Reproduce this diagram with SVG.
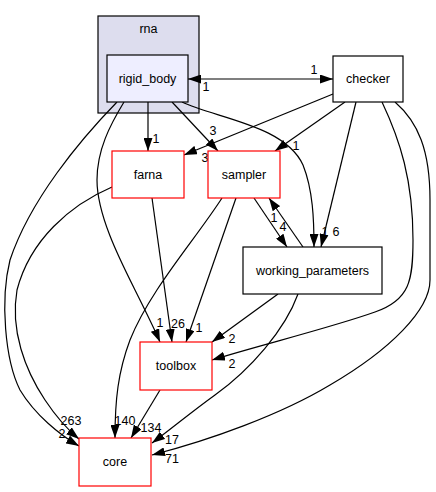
<svg xmlns="http://www.w3.org/2000/svg" width="436" height="492" viewBox="0 0 436 492">
<style>
text{font-family:"Liberation Sans",Arial,sans-serif;font-size:12.5px;fill:#000}
.n{text-anchor:middle}
.box{fill:#fff;stroke:#000;stroke-width:1.2}
.red{fill:#fff;stroke:#ff0000;stroke-width:1.2}
.e{fill:none;stroke:#000;stroke-width:1.2;marker-end:url(#ah)}
.l{text-anchor:middle}
</style>
<defs>
<marker id="ah" viewBox="0 0 13 9" refX="13" refY="4.5" markerWidth="13" markerHeight="9" markerUnits="userSpaceOnUse" orient="auto"><path d="M0,0 L13,4.5 L0,9 z" fill="#000"/></marker>
<marker id="ahs" viewBox="0 0 13 9" refX="13" refY="4.5" markerWidth="13" markerHeight="9" markerUnits="userSpaceOnUse" orient="auto-start-reverse"><path d="M0,0 L13,4.5 L0,9 z" fill="#000"/></marker>
</defs>
<rect width="436" height="492" fill="#fff"/>
<g id="cluster_rna">
<rect x="98" y="16" width="101" height="97" fill="#ddddee" stroke="#000" stroke-width="1.2"/>
<text class="n" x="148.5" y="33">rna</text>
</g>
<g id="connectors">
<path class="e" d="M188,79 L333,79" style="marker-start:url(#ahs)"/>
<text class="l" x="314" y="74">1</text>
<text class="l" x="206" y="91">1</text>
<path class="e" d="M148,102 L148,151"/>
<text class="l" x="156" y="143">1</text>
<path class="e" d="M172,102 L218,151"/>
<text class="l" x="213" y="135">3</text>
<path class="e" d="M333,94 L184,155"/>
<text class="l" x="205" y="162">3</text>
<path class="e" d="M345,102 L275,151"/>
<text class="l" x="296" y="150">1</text>
<path class="e" d="M182,102 C215,118 285,125 303,165 C313,190 314,220 314,247"/>
<path class="e" d="M356,102 L321,247"/>
<text class="l" x="325" y="236">1</text>
<text class="l" x="336" y="236">6</text>
<path class="e" d="M254,198 L287,247"/>
<text class="l" x="283" y="231">4</text>
<path class="e" d="M303,247 L269,198"/>
<text class="l" x="274" y="222">1</text>
<path class="e" d="M382,102 C400,140 413,180 413,240 C413,280 410,300 375,312 C330,328 260,345 212,360"/>
<text class="l" x="232" y="368">2</text>
<path class="e" d="M395,102 C418,122 430,150 430,200 L430,280 C430,310 390,350 330,385 C280,415 210,440 152,455"/>
<text class="l" x="172" y="463">71</text>
<path class="e" d="M278,294 L212,342"/>
<text class="l" x="232" y="343">2</text>
<path class="e" d="M298,294 C285,330 250,370 215,395 C190,413 170,430 152,443"/>
<text class="l" x="172" y="444">17</text>
<path class="e" d="M160,390 L131,438"/>
<text class="l" x="151" y="432">134</text>
<path class="e" d="M222,198 C195,240 150,290 130,340 C118,372 115,400 115,438"/>
<text class="l" x="125" y="425">140</text>
<path class="e" d="M236,198 L186,342"/>
<text class="l" x="199" y="332">1</text>
<path class="e" d="M152,198 L172,342"/>
<text class="l" x="178" y="328">26</text>
<path class="e" d="M124,102 C110,125 97,150 97,180 C97,215 120,260 135,290 C145,310 155,330 160,342"/>
<text class="l" x="160" y="327">1</text>
<text class="l" x="62" y="438">2</text>
<path class="e" d="M117,102 C80,140 30,200 10,260 C0,300 5,360 20,390 C35,415 60,435 79,446"/>
<text class="l" x="71" y="425">263</text>
<path class="e" d="M112,187 C70,205 30,240 17,290 C10,330 25,370 45,400 C55,415 68,430 79,439"/>
</g>
<g id="rigid_body">
<rect x="107" y="55" width="81" height="47" fill="#eeeeff" stroke="#000" stroke-width="1.2"/>
<text class="n" x="147.5" y="83">rigid_body</text>
</g>
<g id="checker">
<rect class="box" x="333" y="56" width="70" height="46"/>
<text class="n" x="368" y="83">checker</text>
</g>
<g id="farna">
<rect class="red" x="112" y="151" width="72" height="47"/>
<text class="n" x="148" y="179">farna</text>
</g>
<g id="sampler">
<rect class="red" x="208" y="151" width="72" height="47"/>
<text class="n" x="244" y="179">sampler</text>
</g>
<g id="working_parameters">
<rect class="box" x="243" y="247" width="139" height="47"/>
<text class="n" x="312.5" y="275">working_parameters</text>
</g>
<g id="toolbox">
<rect class="red" x="140" y="342" width="72" height="48"/>
<text class="n" x="176" y="370">toolbox</text>
</g>
<g id="core">
<rect class="red" x="79" y="438" width="72" height="48"/>
<text class="n" x="115" y="466">core</text>
</g>
</svg>
